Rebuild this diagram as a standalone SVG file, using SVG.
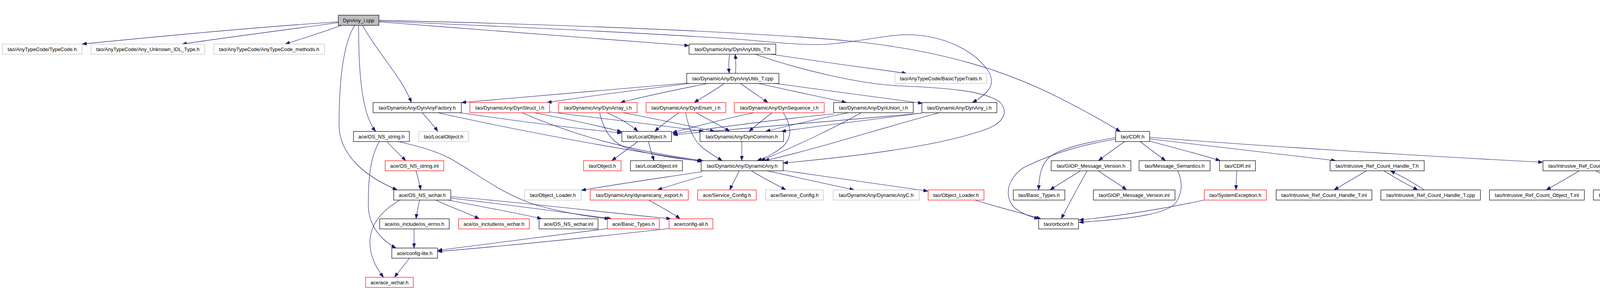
<svg xmlns="http://www.w3.org/2000/svg" width="4335" height="741" viewBox="0 0 4335 741">
<style>
.node rect{fill:#ffffff;stroke:#000000;stroke-width:1.2}
.node.root rect{fill:#bfbfbf}
.node.r rect{stroke:#ff0000}
.node.g rect{stroke:#bfbfbf}
.node text{font-family:"Liberation Sans",Arial,sans-serif;font-size:13px;text-anchor:middle;fill:#000000}
#edges path{fill:none;stroke:#191970;stroke-width:1.1;marker-end:url(#arr)}
</style>
<defs>
<marker id="arr" viewBox="0 0 12 9" refX="12" refY="4.5" markerWidth="12" markerHeight="9" markerUnits="userSpaceOnUse" orient="auto">
<polygon points="0,0 12,4.5 0,9" fill="#191970" stroke="#191970" stroke-width="0.5"/>
</marker>
</defs>
<rect x="0" y="0" width="4335" height="741" fill="#ffffff"/>
<g id="edges">
<path d="M866,56 C650,70 420,92 210,113"/>
<path d="M866,58 C720,78 580,96 466,113"/>
<path d="M874,65 C820,85 770,100 730,113"/>
<path d="M970,56 C1250,78 1550,100 1764,117"/>
<path d="M928,65 C970,140 1030,200 1053,263"/>
<path d="M918,65 C918,160 922,290 962,337"/>
<path d="M908,65 C880,110 868,200 868,320 C868,400 940,455 1017,487"/>
<path d="M970,54 C1300,68 1650,85 1884,100 C1980,108 2050,116 2110,114 C2200,108 2270,88 2330,89 C2420,92 2490,130 2525,175 C2555,215 2530,240 2489,263"/>
<path d="M970,52 C1400,62 1900,80 2174,105 C2420,130 2580,185 2700,245 C2790,290 2840,320 2868,337"/>
<path d="M1868,139 C1865,155 1865,172 1867,188"/>
<path d="M1883,188 C1884,172 1884,155 1882,139"/>
<path d="M1973,139 C2100,158 2230,176 2321,188"/>
<path d="M1933,139 C2050,180 2200,215 2300,220 C2420,225 2520,232 2560,262 C2585,290 2565,318 2520,333 C2400,375 2200,400 2005,418"/>
<path d="M1770,212 C1550,232 1340,248 1181,263"/>
<path d="M1766,214 C1620,232 1500,247 1400,263"/>
<path d="M1812,214 C1720,232 1650,247 1588,263"/>
<path d="M1854,214 C1830,232 1800,248 1777,263"/>
<path d="M1896,214 C1920,232 1945,248 1966,263"/>
<path d="M1942,214 C2020,232 2100,248 2167,263"/>
<path d="M1984,214 C2120,232 2250,250 2362,265"/>
<path d="M1081,289 C1095,305 1110,322 1121,337"/>
<path d="M1177,289 C1320,310 1460,328 1592,341"/>
<path d="M1121,289 C1350,340 1600,385 1797,414"/>
<path d="M1336,289 C1420,325 1560,380 1800,412"/>
<path d="M1368,289 C1450,305 1530,322 1592,338"/>
<path d="M1406,287 C1550,305 1700,322 1802,337"/>
<path d="M1535,289 C1545,330 1560,360 1600,378 C1680,400 1740,408 1803,413"/>
<path d="M1554,289 C1590,305 1615,320 1633,337"/>
<path d="M1595,289 C1680,305 1760,322 1830,337"/>
<path d="M1738,289 C1715,305 1695,320 1676,337"/>
<path d="M1755,289 C1762,320 1770,355 1800,380 C1820,395 1835,403 1849,412"/>
<path d="M1782,289 C1810,305 1845,322 1868,337"/>
<path d="M1931,289 C1850,305 1780,325 1721,340"/>
<path d="M1977,289 C1955,305 1935,322 1917,337"/>
<path d="M2005,289 C2025,320 2030,350 2005,375 C1985,392 1965,402 1938,412"/>
<path d="M2134,292 C2000,305 1850,325 1722,343"/>
<path d="M2173,289 C2090,305 2020,322 1960,337"/>
<path d="M2205,289 C2150,320 2050,370 1947,412"/>
<path d="M2360,290 C2150,310 1900,328 1723,346"/>
<path d="M2357,290 C2250,305 2100,322 2000,337"/>
<path d="M2405,289 C2250,330 2100,380 1957,412"/>
<path d="M1899,363 L1899,412"/>
<path d="M1633,363 C1610,380 1585,398 1566,412"/>
<path d="M1660,363 C1664,380 1670,398 1674,412"/>
<path d="M991,363 C1005,380 1025,398 1039,412"/>
<path d="M971,363 C950,400 942,450 943,530 C945,580 975,615 1014,636"/>
<path d="M1020,363 C1070,375 1110,385 1150,405 C1230,450 1280,495 1370,525 C1440,545 1500,555 1560,561"/>
<path d="M1065,438 C1070,455 1074,470 1077,487"/>
<path d="M1074,513 C1071,530 1067,545 1065,561"/>
<path d="M1116,513 C1150,530 1195,545 1227,561"/>
<path d="M1148,513 C1230,530 1320,545 1387,561"/>
<path d="M1154,508 C1300,525 1450,545 1566,561"/>
<path d="M1154,504 C1350,520 1550,545 1718,561"/>
<path d="M1023,513 C970,545 948,580 947,620 C947,660 965,690 982,711"/>
<path d="M1060,587 L1060,636"/>
<path d="M1556,586 C1400,605 1250,625 1120,642"/>
<path d="M1713,586 C1500,610 1300,630 1120,645"/>
<path d="M1661,513 C1690,530 1720,545 1741,561"/>
<path d="M1048,662 C1035,680 1020,697 1010,711"/>
<path d="M1798,440 C1700,455 1580,472 1488,488"/>
<path d="M1798,452 C1750,465 1710,478 1683,487"/>
<path d="M1892,438 C1885,455 1875,472 1868,487"/>
<path d="M1924,438 C1950,455 1985,472 2012,487"/>
<path d="M1964,438 C2040,455 2130,474 2187,487"/>
<path d="M2005,437 C2130,455 2260,474 2376,490"/>
<path d="M2496,513 C2550,530 2620,548 2665,561"/>
<path d="M2879,363 C2855,380 2830,398 2812,412"/>
<path d="M2919,363 C2940,380 2965,398 2984,412"/>
<path d="M2943,362 C3010,380 3080,398 3124,412"/>
<path d="M2943,356 C3100,375 3300,398 3420,412"/>
<path d="M2943,352 C3200,372 3600,398 3950,416"/>
<path d="M2856,353 C2780,365 2720,380 2690,400 C2665,420 2660,450 2659,487"/>
<path d="M2856,357 C2760,372 2680,400 2620,430 C2575,460 2570,510 2600,535 C2620,550 2640,556 2660,561"/>
<path d="M2766,438 C2740,455 2710,472 2688,487"/>
<path d="M2783,438 C2760,480 2735,525 2717,561"/>
<path d="M2812,438 C2835,455 2865,472 2884,487"/>
<path d="M3015,438 C3025,460 3030,490 3010,520 C2990,545 2920,560 2762,570"/>
<path d="M3166,438 L3164,487"/>
<path d="M3083,513 C2980,535 2860,555 2762,564"/>
<path d="M3498,438 C3470,455 3440,472 3415,487"/>
<path d="M3543,438 C3570,455 3600,472 3630,487"/>
<path d="M3646,487 C3620,470 3590,452 3559,438"/>
<path d="M4043,438 C4015,455 3985,472 3958,487"/>
<path d="M4086,438 C4115,455 4145,472 4174,487"/>
<path d="M4190,487 C4160,470 4130,452 4102,438"/>
</g>
<g id="n0" class="node root"><rect x="866" y="39" width="104" height="26"/><text x="918" y="56.5">DynAny_i.cpp</text></g>
<g id="n1" class="node g"><rect x="6" y="113" width="204" height="26"/><text x="108" y="130.5">tao/AnyTypeCode/TypeCode.h</text></g>
<g id="n2" class="node g"><rect x="233" y="113" width="291" height="26"/><text x="378.5" y="130.5">tao/AnyTypeCode/Any_Unknown_IDL_Type.h</text></g>
<g id="n3" class="node g"><rect x="547" y="113" width="284" height="26"/><text x="689" y="130.5">tao/AnyTypeCode/AnyTypeCode_methods.h</text></g>
<g id="n4" class="node"><rect x="1764" y="113" width="222" height="26"/><text x="1875" y="130.5">tao/DynamicAny/DynAnyUtils_T.h</text></g>
<g id="n5" class="node"><rect x="1758" y="188" width="236" height="26"/><text x="1876" y="205.5">tao/DynamicAny/DynAnyUtils_T.cpp</text></g>
<g id="n6" class="node g"><rect x="2291" y="188" width="235" height="26"/><text x="2408.5" y="205.5">tao/AnyTypeCode/BasicTypeTraits.h</text></g>
<g id="n7" class="node"><rect x="955" y="263" width="226" height="26"/><text x="1068" y="280.5">tao/DynamicAny/DynAnyFactory.h</text></g>
<g id="n8" class="node r"><rect x="1203" y="263" width="204" height="26"/><text x="1305" y="280.5">tao/DynamicAny/DynStruct_i.h</text></g>
<g id="n9" class="node r"><rect x="1430" y="263" width="201" height="26"/><text x="1530.5" y="280.5">tao/DynamicAny/DynArray_i.h</text></g>
<g id="n10" class="node r"><rect x="1654" y="263" width="204" height="26"/><text x="1756" y="280.5">tao/DynamicAny/DynEnum_i.h</text></g>
<g id="n11" class="node r"><rect x="1880" y="263" width="230" height="26"/><text x="1995" y="280.5">tao/DynamicAny/DynSequence_i.h</text></g>
<g id="n12" class="node"><rect x="2134" y="263" width="204" height="26"/><text x="2236" y="280.5">tao/DynamicAny/DynUnion_i.h</text></g>
<g id="n13" class="node"><rect x="2360" y="263" width="192" height="26"/><text x="2456" y="280.5">tao/DynamicAny/DynAny_i.h</text></g>
<g id="n14" class="node"><rect x="905" y="337" width="143" height="26"/><text x="976.5" y="354.5">ace/OS_NS_string.h</text></g>
<g id="n15" class="node g"><rect x="1072" y="337" width="127" height="26"/><text x="1135.5" y="354.5">tao/LocalObject.h</text></g>
<g id="n16" class="node"><rect x="1592" y="337" width="127" height="26"/><text x="1655.5" y="354.5">tao/LocalObject.h</text></g>
<g id="n17" class="node"><rect x="1792" y="337" width="214" height="26"/><text x="1899" y="354.5">tao/DynamicAny/DynCommon.h</text></g>
<g id="n18" class="node"><rect x="2856" y="337" width="87" height="26"/><text x="2899.5" y="354.5">tao/CDR.h</text></g>
<g id="n19" class="node r"><rect x="986" y="412" width="150" height="26"/><text x="1061" y="429.5">ace/OS_NS_string.inl</text></g>
<g id="n20" class="node r"><rect x="1494" y="412" width="96" height="26"/><text x="1542" y="429.5">tao/Object.h</text></g>
<g id="n21" class="node"><rect x="1614" y="412" width="133" height="26"/><text x="1680.5" y="429.5">tao/LocalObject.inl</text></g>
<g id="n22" class="node"><rect x="1795" y="412" width="210" height="26"/><text x="1900" y="429.5">tao/DynamicAny/DynamicAny.h</text></g>
<g id="n23" class="node"><rect x="2691" y="412" width="204" height="26"/><text x="2793" y="429.5">tao/GIOP_Message_Version.h</text></g>
<g id="n24" class="node"><rect x="2916" y="412" width="182" height="26"/><text x="3007" y="429.5">tao/Message_Semantics.h</text></g>
<g id="n25" class="node"><rect x="3122" y="412" width="92" height="26"/><text x="3168" y="429.5">tao/CDR.inl</text></g>
<g id="n26" class="node"><rect x="3405" y="412" width="241" height="26"/><text x="3525.5" y="429.5">tao/Intrusive_Ref_Count_Handle_T.h</text></g>
<g id="n27" class="node"><rect x="3950" y="412" width="237" height="26"/><text x="4068.5" y="429.5">tao/Intrusive_Ref_Count_Object_T.h</text></g>
<g id="n28" class="node"><rect x="1008" y="487" width="146" height="26"/><text x="1081" y="504.5">ace/OS_NS_wchar.h</text></g>
<g id="n29" class="node g"><rect x="1343" y="487" width="145" height="26"/><text x="1415.5" y="504.5">tao/Object_Loader.h</text></g>
<g id="n30" class="node r"><rect x="1511" y="487" width="251" height="26"/><text x="1636.5" y="504.5">tao/DynamicAny/dynamicany_export.h</text></g>
<g id="n31" class="node r"><rect x="1786" y="487" width="150" height="26"/><text x="1861" y="504.5">ace/Service_Config.h</text></g>
<g id="n32" class="node g"><rect x="1960" y="487" width="148" height="26"/><text x="2034" y="504.5">ace/Service_Config.h</text></g>
<g id="n33" class="node g"><rect x="2133" y="487" width="220" height="26"/><text x="2243" y="504.5">tao/DynamicAny/DynamicAnyC.h</text></g>
<g id="n34" class="node r"><rect x="2376" y="487" width="143" height="26"/><text x="2447.5" y="504.5">tao/Object_Loader.h</text></g>
<g id="n35" class="node"><rect x="2594" y="487" width="132" height="26"/><text x="2660" y="504.5">tao/Basic_Types.h</text></g>
<g id="n36" class="node"><rect x="2799" y="487" width="209" height="26"/><text x="2903.5" y="504.5">tao/GIOP_Message_Version.inl</text></g>
<g id="n37" class="node r"><rect x="3083" y="487" width="159" height="26"/><text x="3162.5" y="504.5">tao/SystemException.h</text></g>
<g id="n38" class="node"><rect x="3267" y="487" width="245" height="26"/><text x="3389.5" y="504.5">tao/Intrusive_Ref_Count_Handle_T.inl</text></g>
<g id="n39" class="node"><rect x="3535" y="487" width="255" height="26"/><text x="3662.5" y="504.5">tao/Intrusive_Ref_Count_Handle_T.cpp</text></g>
<g id="n40" class="node"><rect x="3813" y="487" width="243" height="26"/><text x="3934.5" y="504.5">tao/Intrusive_Ref_Count_Object_T.inl</text></g>
<g id="n41" class="node"><rect x="4079" y="487" width="252" height="26"/><text x="4205" y="504.5">tao/Intrusive_Ref_Count_Object_T.cpp</text></g>
<g id="n42" class="node"><rect x="972" y="561" width="178" height="26"/><text x="1061" y="578.5">ace/os_include/os_errno.h</text></g>
<g id="n43" class="node r"><rect x="1174" y="561" width="181" height="26"/><text x="1264.5" y="578.5">ace/os_include/os_wchar.h</text></g>
<g id="n44" class="node"><rect x="1380" y="561" width="151" height="26"/><text x="1455.5" y="578.5">ace/OS_NS_wchar.inl</text></g>
<g id="n45" class="node r"><rect x="1555" y="561" width="133" height="26"/><text x="1621.5" y="578.5">ace/Basic_Types.h</text></g>
<g id="n46" class="node r"><rect x="1713" y="561" width="112" height="26"/><text x="1769" y="578.5">ace/config-all.h</text></g>
<g id="n47" class="node"><rect x="2659" y="561" width="102" height="26"/><text x="2710" y="578.5">tao/orbconf.h</text></g>
<g id="n48" class="node"><rect x="1003" y="636" width="117" height="26"/><text x="1061.5" y="653.5">ace/config-lite.h</text></g>
<g id="n49" class="node r"><rect x="936" y="711" width="122" height="26"/><text x="997" y="728.5">ace/ace_wchar.h</text></g>
</svg>
